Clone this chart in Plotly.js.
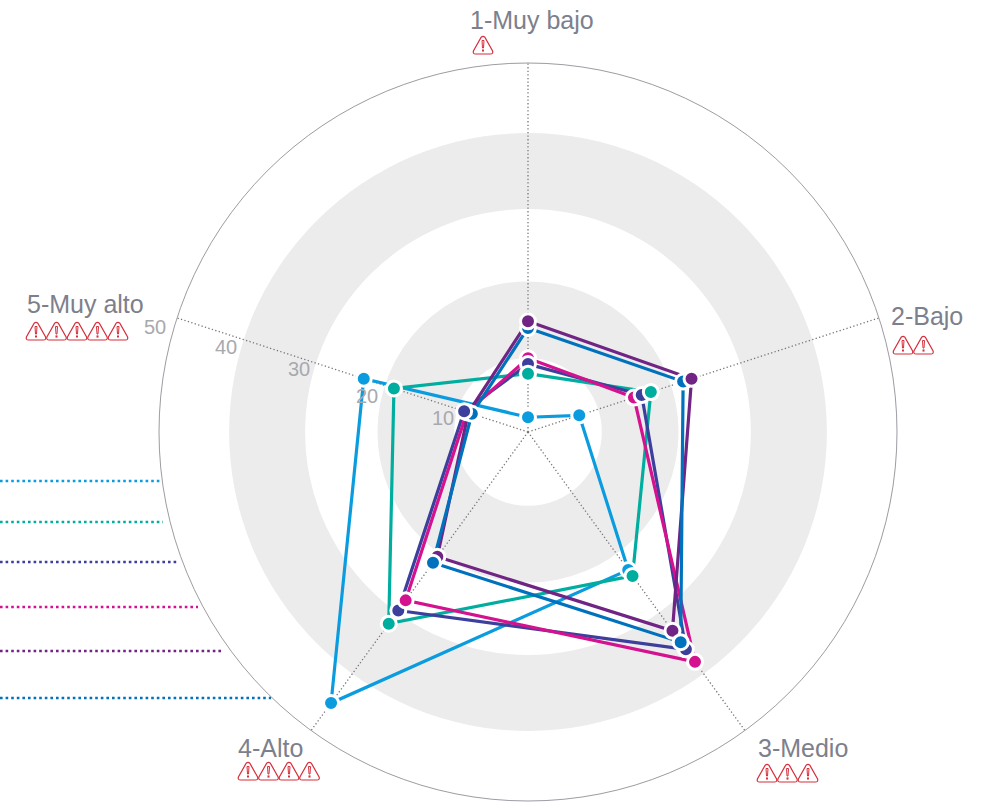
<!DOCTYPE html>
<html>
<head>
<meta charset="utf-8">
<script src="https://cdn.plot.ly/plotly-3.0.1.min.js"></script>
<style>html,body{margin:0;padding:0;background:#fff}#chart{width:991px;height:803px}</style>
</head>
<body>
<div id="chart"></div>
<script>
// Risk levels, one spoke each, clockwise from the top
const levels = ['1-Muy bajo', '2-Bajo', '3-Medio', '4-Alto', '5-Muy alto'];
const warningCounts = [1, 2, 3, 4, 5];
const spokeAngles = [0, 72, 144, 216, 288];
const radialTicks = [10, 20, 30, 40, 50];
const shadedBands = [[10, 20.4], [30.2, 40.5]];

// Share per level for each series
const cyanValues    = [2.0, 7.3, 23.1, 45.4, 23.4];
const tealValues    = [7.9, 17.5, 24.1, 32.1, 19.1];
const indigoValues  = [9.2, 16.2, 36.4, 29.9, 9.1];
const magentaValues = [10.0, 15.1, 38.5, 28.2, 8.7];
const purpleValues  = [15.0, 23.3, 33.3, 20.9, 8.5];
const blueValues    = [14.1, 22.1, 35.2, 21.9, 8.0];

const series = [
  {values: cyanValues,    color: '#0a9cdf', leaderY: 481, leaderEnd: 160},
  {values: tealValues,    color: '#00ae9f', leaderY: 522, leaderEnd: 163},
  {values: indigoValues,  color: '#3c3f9b', leaderY: 562, leaderEnd: 179},
  {values: magentaValues, color: '#d4128f', leaderY: 607, leaderEnd: 198},
  {values: purpleValues,  color: '#702484', leaderY: 651, leaderEnd: 224},
  {values: blueValues,    color: '#0071bc', leaderY: 698, leaderEnd: 271}
];

// Which series sits on top at each spoke: listed bottom to top
const stackOrder = [
  [0, 5, 4, 3, 2, 1],
  [0, 5, 4, 3, 2, 1],
  [0, 1, 4, 2, 3, 5],
  [0, 4, 5, 1, 2, 3],
  [0, 1, 4, 3, 5, 2]
];

const W = 991, H = 803;
const CX = 528, CY = 432, RADIUS = 369;
const px = x => x / W;
const py = y => 1 - y / H;

const traces = [];

// Shaded rings
shadedBands.forEach(([from, to]) => {
  traces.push({
    type: 'barpolar', theta: [0], r: [to - from], base: [from], width: [360],
    marker: {color: '#ececed', line: {width: 0}}, hoverinfo: 'skip', showlegend: false
  });
});

// Dotted spokes
spokeAngles.forEach(a => {
  traces.push({
    type: 'scatterpolar', mode: 'lines', theta: [a, a], r: [0, 50],
    line: {color: '#77777c', width: 1.3, dash: '1.3px,2.3px'}, hoverinfo: 'skip', showlegend: false
  });
});

// Closed series outlines
series.forEach(s => {
  traces.push({
    type: 'scatterpolar', mode: 'lines',
    theta: spokeAngles.concat(spokeAngles[0]),
    r: s.values.concat(s.values[0]),
    line: {color: s.color, width: 3.2}, showlegend: false
  });
});

// Markers, stacked per spoke
spokeAngles.forEach((a, i) => {
  const order = stackOrder[i];
  traces.push({
    type: 'scatterpolar', mode: 'markers',
    theta: order.map(() => a),
    r: order.map(k => series[k].values[i]),
    marker: {size: 15, color: order.map(k => series[k].color), line: {color: '#fff', width: 3}},
    showlegend: false
  });
});

// Warning triangle built from pixel positions
function warningIcon(left, top) {
  const w = 20, h = 18, red = '#d62f3c';
  const X = v => px(left + v), Y = v => py(top + v);
  const triangle =
    `M${X(8.2)},${Y(1.2)} Q${X(10)},${Y(-0.6)} ${X(11.8)},${Y(1.2)} ` +
    `L${X(w - 0.4)},${Y(h - 3)} Q${X(w + 0.4)},${Y(h)} ${X(w - 2.6)},${Y(h)} ` +
    `L${X(2.6)},${Y(h)} Q${X(-0.4)},${Y(h)} ${X(0.4)},${Y(h - 3)} Z`;
  const mark =
    `M${X(9)},${Y(4.5)} L${X(11)},${Y(4.5)} L${X(10.5)},${Y(12)} L${X(9.5)},${Y(12)} Z`;
  const dot =
    `M${X(9)},${Y(13.4)} L${X(11)},${Y(13.4)} L${X(11)},${Y(15.6)} L${X(9)},${Y(15.6)} Z`;
  const base = {type: 'path', xref: 'paper', yref: 'paper'};
  return [
    {...base, path: triangle, line: {color: red, width: 1.2}, fillcolor: 'rgba(255,255,255,0)'},
    {...base, path: mark, line: {color: red, width: 1}, fillcolor: '#fff'},
    {...base, path: dot, line: {width: 0}, fillcolor: red}
  ];
}

const labelSpots = [
  {x: 531.5, y: 20,  iconX: 473, iconY: 36},
  {x: 926.5, y: 316, iconX: 893, iconY: 336},
  {x: 802.5, y: 748, iconX: 757, iconY: 764},
  {x: 270.5, y: 748, iconX: 238, iconY: 762},
  {x: 85,    y: 304, iconX: 26,  iconY: 322}
];

const annotations = levels.map((name, i) => ({
  text: name, xref: 'paper', yref: 'paper', x: px(labelSpots[i].x), y: py(labelSpots[i].y),
  xanchor: 'center', yanchor: 'middle', showarrow: false,
  font: {family: 'Liberation Sans', size: 25, color: '#7d808c'}
}));

// Radial scale labels, set beside the spoke at 288 degrees
const tickSpots = [[443, 418], [367, 396], [299, 369], [226, 347], [155, 327]];
radialTicks.forEach((t, i) => {
  annotations.push({
    text: String(t), xref: 'paper', yref: 'paper', x: px(tickSpots[i][0]), y: py(tickSpots[i][1]),
    xanchor: 'center', yanchor: 'middle', showarrow: false,
    font: {family: 'Liberation Sans', size: 20, color: '#a8a9ad'}
  });
});

const shapes = [];
warningCounts.forEach((n, i) => {
  for (let k = 0; k < n; k++) {
    shapes.push(...warningIcon(labelSpots[i].iconX + k * 20.5, labelSpots[i].iconY));
  }
});
series.forEach(s => {
  shapes.push({
    type: 'line', xref: 'paper', yref: 'paper',
    x0: 0, x1: px(s.leaderEnd), y0: py(s.leaderY), y1: py(s.leaderY),
    line: {color: s.color, width: 2.6, dash: '2.6px,3px'}
  });
});

const layout = {
  width: W, height: H,
  margin: {l: 0, r: 0, t: 0, b: 0},
  paper_bgcolor: '#fff',
  showlegend: false,
  polar: {
    domain: {x: [px(CX - RADIUS), px(CX + RADIUS)], y: [py(CY + RADIUS), py(CY - RADIUS)]},
    bgcolor: 'rgba(0,0,0,0)',
    radialaxis: {
      range: [0, 50], angle: 162, tickmode: 'array', tickvals: radialTicks,
      showticklabels: false, showline: false, showgrid: false, ticks: ''
    },
    angularaxis: {
      direction: 'clockwise', rotation: 90, thetaunit: 'degrees',
      tickmode: 'array', tickvals: spokeAngles, showticklabels: false, ticks: '',
      showgrid: false, showline: true, linecolor: '#9c9ca2', linewidth: 1
    }
  },
  annotations, shapes
};

Plotly.newPlot('chart', traces, layout, {displayModeBar: false, staticPlot: true});
</script>
</body>
</html>
